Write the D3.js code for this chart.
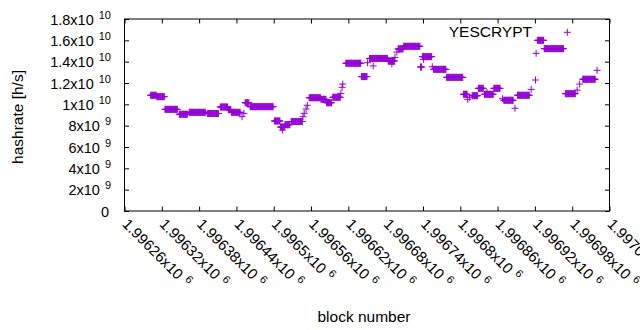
<!DOCTYPE html>
<html>
<head>
<meta charset="utf-8">
<script src="https://cdn.jsdelivr.net/npm/d3@7"></script>
<style>
  body { margin: 0; background: #fff; }
  text { font-family: "Liberation Sans", Arial, sans-serif; fill: #000; }
</style>
</head>
<body>
<div id="chart"></div>
<script>
// runs of blocks with the same hashrate (value in units of 1e9 h/s)
var runStart = [1996302, 1996312, 1996325, 1996348, 1996364, 1996393, 1996414, 1996427, 1996432, 1996449,
  1996452, 1996454, 1996462, 1996501, 1996511, 1996514, 1996518, 1996528, 1996547, 1996549,
  1996552, 1996554, 1996557, 1996576, 1996585, 1996595, 1996608, 1996610, 1996611, 1996616,
  1996641, 1996651, 1996654, 1996660, 1996684, 1996690, 1996695, 1996698, 1996700, 1996709,
  1996736, 1996739, 1996741, 1996755, 1996757, 1996778, 1996805, 1996812, 1996815, 1996819,
  1996829, 1996839, 1996843, 1996854, 1996868, 1996870, 1996888, 1996892, 1996914, 1996921,
  1996922, 1996924, 1996935, 1996969, 1996988, 1996992, 1996997, 1997020];
var runEnd = [1996311, 1996324, 1996345, 1996361, 1996390, 1996411, 1996426, 1996431, 1996446, 1996449,
  1996452, 1996460, 1996499, 1996510, 1996517, 1996514, 1996526, 1996546, 1996547, 1996549,
  1996552, 1996554, 1996575, 1996584, 1996593, 1996607, 1996608, 1996610, 1996611, 1996640,
  1996650, 1996651, 1996683, 1996660, 1996694, 1996690, 1996695, 1996698, 1996708, 1996735,
  1996738, 1996754, 1996741, 1996755, 1996777, 1996804, 1996811, 1996812, 1996815, 1996828,
  1996837, 1996853, 1996843, 1996864, 1996868, 1996885, 1996888, 1996911, 1996914, 1996921,
  1996922, 1996934, 1996966, 1996985, 1996988, 1996992, 1997017, 1997020];
var runValue = [10.85, 10.72, 9.53, 9.07, 9.25, 9.14, 9.75, 9.50, 9.25, 8.84,
  9.16, 10.15, 9.78, 8.44, 7.875, 7.59, 8.09, 8.39, 8.84, 9.16,
  9.56, 9.91, 10.62, 10.47, 10.15, 10.66, 11.03, 11.6, 11.9, 13.85,
  12.6, 13.9, 14.3, 13.6, 14.06, 13.78, 14.4, 14.9, 15.2, 15.44,
  13.5, 14.47, 14.2, 13.53, 13.28, 12.53, 10.94, 10.47, 10.66, 10.81,
  11.5, 10.94, 11.1, 11.5, 10.53, 10.38, 9.63, 10.85, 11.4, 12.28,
  14.78, 16.0, 15.22, 11.0, 11.34, 11.9, 12.35, 13.19];

var xTickValues = [1996260, 1996320, 1996380, 1996440, 1996500, 1996560, 1996620,
  1996680, 1996740, 1996800, 1996860, 1996920, 1996980, 1997040];
var xTickLabels = ["1.99626", "1.99632", "1.99638", "1.99644", "1.9965", "1.99656", "1.99662",
  "1.99668", "1.99674", "1.9968", "1.99686", "1.99692", "1.99698", "1.99704"];
var yTickValues = [0, 2e9, 4e9, 6e9, 8e9, 1e10, 1.2e10, 1.4e10, 1.6e10, 1.8e10];
var yTickLabels = ["0", "2", "4", "6", "8", "1", "1.2", "1.4", "1.6", "1.8"];
var yTickExp = ["", "9", "9", "9", "9", "10", "10", "10", "10", "10"];

var width = 640, height = 330;
var plotL = 124.5, plotR = 609.5, plotT = 19, plotB = 211;
var color = "#9400d3";

var svg = d3.select("#chart").append("svg")
  .attr("width", width)
  .attr("height", height);

var x = d3.scaleLinear().domain([1996260, 1997040]).range([plotL, plotR]);
var y = d3.scaleLinear().domain([0, 1.8e10]).range([plotB, plotT]);

// points, one per block
var points = [];
runStart.forEach(function(s, i) {
  d3.range(s, runEnd[i] + 1).forEach(function(b) {
    points.push({ block: b, value: runValue[i] * 1e9 });
  });
});

var h = 3.5;
function plus(px, py) {
  return "M" + (px - h) + "," + py + "H" + (px + h) + "M" + px + "," + (py - h) + "V" + (py + h);
}

svg.append("g")
  .selectAll("path")
  .data(points)
  .join("path")
  .attr("d", function(d) { return plus(x(d.block), y(d.value)); })
  .attr("fill", "none")
  .attr("stroke", color)
  .attr("stroke-width", 1);

// ticks on all four sides, pointing inward
var tl = 4.5;
function noLabels(g) {
  g.selectAll("text").remove();
  g.select(".domain").remove();
  g.selectAll("line").attr("stroke", "#000");
}
svg.append("g").attr("transform", "translate(0," + plotB + ")")
  .call(d3.axisBottom(x).tickValues(xTickValues).tickSize(-tl)).call(noLabels);
svg.append("g").attr("transform", "translate(0," + plotT + ")")
  .call(d3.axisTop(x).tickValues(xTickValues).tickSize(-tl)).call(noLabels);
svg.append("g").attr("transform", "translate(" + plotL + ",0)")
  .call(d3.axisLeft(y).tickValues(yTickValues).tickSize(-tl)).call(noLabels);
svg.append("g").attr("transform", "translate(" + plotR + ",0)")
  .call(d3.axisRight(y).tickValues(yTickValues).tickSize(-tl)).call(noLabels);

svg.append("rect")
  .attr("x", plotL).attr("y", plotT)
  .attr("width", plotR - plotL).attr("height", plotB - plotT)
  .attr("fill", "none").attr("stroke", "#000").attr("stroke-width", 1);

// y tick labels
var yl = svg.append("g").selectAll("text")
  .data(yTickValues)
  .join("text")
  .attr("x", function(d, i) { return yTickExp[i] === "" ? 109 : 111; })
  .attr("y", function(d) { return y(d) + 5.5; })
  .attr("text-anchor", "end")
  .style("font-size", "14.5px");
yl.append("tspan").text(function(d, i) { return yTickExp[i] === "" ? yTickLabels[i] : yTickLabels[i] + "x10"; });
yl.filter(function(d, i) { return yTickExp[i] !== ""; })
  .append("tspan")
  .attr("dx", 5).attr("dy", -5.7)
  .style("font-size", "11px")
  .text(function(d) { return yTickExp[yTickValues.indexOf(d)]; });

// x tick labels, rotated
var xl = svg.append("g").selectAll("text")
  .data(xTickValues)
  .join("text")
  .attr("transform", function(d) { return "translate(" + (x(d) - 3) + ",225) rotate(45)"; })
  .style("font-size", "15px");
xl.append("tspan").text(function(d, i) { return xTickLabels[i] + "x10"; });
xl.append("tspan").attr("dx", 5).attr("dy", -5.7).style("font-size", "11px").text("6");

// axis titles
svg.append("text")
  .attr("transform", "translate(23,117) rotate(-90)")
  .attr("text-anchor", "middle")
  .style("font-size", "15.5px")
  .text("hashrate [h/s]");
svg.append("text")
  .attr("x", 364).attr("y", 322)
  .attr("text-anchor", "middle")
  .style("font-size", "15.5px")
  .text("block number");

// key
svg.append("text")
  .attr("x", 532).attr("y", 37.3)
  .attr("text-anchor", "end")
  .style("font-size", "15.5px")
  .text("YESCRYPT");
svg.append("path")
  .attr("d", plus(567.3, 32.3))
  .attr("stroke", color).attr("stroke-width", 1);
</script>
</body>
</html>
